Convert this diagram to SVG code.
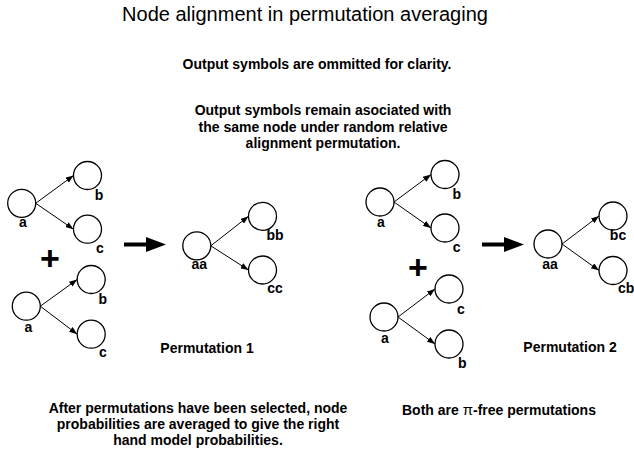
<svg xmlns="http://www.w3.org/2000/svg" width="634" height="453" viewBox="0 0 634 453">
<defs>
<style>
.n{fill:#fff;stroke:#000;stroke-width:1.3}
.e{fill:none;stroke:#000;stroke-width:1}
.l{font-family:"Liberation Sans",Arial,sans-serif;font-weight:bold;font-size:14px;fill:#000;text-anchor:middle}
.t{font-family:"Liberation Sans",Arial,sans-serif;font-size:20px;fill:#000;text-anchor:middle}
.p{font-family:"Liberation Sans",Arial,sans-serif;font-weight:bold;font-size:34px;fill:#000;text-anchor:middle}
.big{fill:#000;stroke:none}
</style>
<marker id="ah" markerUnits="userSpaceOnUse" markerWidth="8" markerHeight="6" refX="8" refY="3" orient="auto">
<path d="M0,0 L8,3 L0,6 Z" fill="#000"/>
</marker>
</defs>
<rect width="634" height="453" fill="#fff"/>

<g id="texts">
<text class="t" x="305" y="21">Node alignment in permutation averaging</text>
<text class="l" x="317" y="68.5">Output symbols are ommitted for clarity.</text>
<text class="l" x="323" y="115">Output symbols remain asociated with</text>
<text class="l" x="323" y="131.5">the same node under random relative</text>
<text class="l" x="323" y="148">alignment permutation.</text>
<text class="l" x="207" y="353">Permutation 1</text>
<text class="l" x="570" y="352">Permutation 2</text>
<text class="l" x="198" y="412.5">After permutations have been selected, node</text>
<text class="l" x="198" y="428.5">probabilities are averaged to give the right</text>
<text class="l" x="198" y="444.5">hand model probabilities.</text>
<text class="l" x="402" y="415" style="text-anchor:start">Both are <tspan font-weight="normal" font-size="15">π</tspan>-free permutations</text>
<text class="p" x="50" y="270">+</text>
<text class="p" x="418" y="279">+</text>
</g>

<g id="connectors">
<line class="e" x1="35.7" y1="203.3" x2="73.5" y2="175.5" marker-end="url(#ah)"/>
<line class="e" x1="35.7" y1="203.3" x2="73.5" y2="229.2" marker-end="url(#ah)"/>
<line class="e" x1="40.3" y1="306.2" x2="77.2" y2="279.5" marker-end="url(#ah)"/>
<line class="e" x1="40.3" y1="306.2" x2="77.2" y2="334.2" marker-end="url(#ah)"/>
<line class="e" x1="210.8" y1="245.8" x2="248.5" y2="216.3" marker-end="url(#ah)"/>
<line class="e" x1="210.8" y1="245.8" x2="248.5" y2="270" marker-end="url(#ah)"/>
<line class="e" x1="394" y1="202" x2="431" y2="174.5" marker-end="url(#ah)"/>
<line class="e" x1="394" y1="202" x2="431" y2="228" marker-end="url(#ah)"/>
<line class="e" x1="398" y1="317" x2="435" y2="289" marker-end="url(#ah)"/>
<line class="e" x1="398" y1="317" x2="435" y2="344" marker-end="url(#ah)"/>
<line class="e" x1="562" y1="244" x2="599" y2="216" marker-end="url(#ah)"/>
<line class="e" x1="562" y1="244" x2="599" y2="270.5" marker-end="url(#ah)"/>
<path id="arrow1" class="big" d="M124,242.5 H146 V237 L166,244.5 L146,252 V246.5 H124 Z"/>
<path id="arrow2" class="big" d="M482,242.5 H504 V237 L524,244.5 L504,252 V246.5 H482 Z"/>
</g>

<g id="t1-a"><circle class="n" cx="21.7" cy="203.3" r="14"/><text class="l" x="23" y="227">a</text></g>
<g id="t1-b"><circle class="n" cx="87.5" cy="175.5" r="14"/><text class="l" x="99" y="199.5">b</text></g>
<g id="t1-c"><circle class="n" cx="87.5" cy="229.2" r="14"/><text class="l" x="100" y="252.5">c</text></g>

<g id="t2-a"><circle class="n" cx="26.3" cy="306.2" r="14"/><text class="l" x="28.3" y="332">a</text></g>
<g id="t2-b"><circle class="n" cx="91.2" cy="279.5" r="14"/><text class="l" x="102.8" y="304">b</text></g>
<g id="t2-c"><circle class="n" cx="91.2" cy="334.2" r="14"/><text class="l" x="103" y="356.7">c</text></g>

<g id="r1-aa"><circle class="n" cx="196.8" cy="245.8" r="14"/><text class="l" x="199.2" y="269">aa</text></g>
<g id="r1-bb"><circle class="n" cx="262.5" cy="216.3" r="14"/><text class="l" x="275" y="240">bb</text></g>
<g id="r1-cc"><circle class="n" cx="262.5" cy="270" r="14"/><text class="l" x="275" y="293">cc</text></g>

<g id="t3-a"><circle class="n" cx="380" cy="202" r="14"/><text class="l" x="381" y="226.7">a</text></g>
<g id="t3-b"><circle class="n" cx="445" cy="174.5" r="14"/><text class="l" x="456.7" y="199">b</text></g>
<g id="t3-c"><circle class="n" cx="445" cy="228" r="14"/><text class="l" x="456.7" y="252.3">c</text></g>

<g id="t4-a"><circle class="n" cx="384" cy="317" r="14"/><text class="l" x="385" y="342.7">a</text></g>
<g id="t4-c"><circle class="n" cx="449" cy="289" r="14"/><text class="l" x="461" y="314">c</text></g>
<g id="t4-b"><circle class="n" cx="449" cy="344" r="14"/><text class="l" x="462.3" y="368">b</text></g>

<g id="r2-aa"><circle class="n" cx="548" cy="244" r="14"/><text class="l" x="550" y="269">aa</text></g>
<g id="r2-bc"><circle class="n" cx="613" cy="216" r="14"/><text class="l" x="618" y="240">bc</text></g>
<g id="r2-cb"><circle class="n" cx="613" cy="270.5" r="14"/><text class="l" x="618" y="293" style="text-anchor:start">cb</text></g>
</svg>
